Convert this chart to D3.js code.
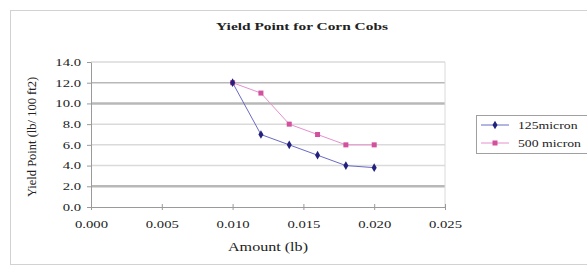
<!DOCTYPE html>
<html>
<head>
<meta charset="utf-8">
<script src="https://cdn.jsdelivr.net/npm/d3@7"></script>
<style>
  body { margin: 0; background: #fff; }
  text { font-family: "Liberation Serif", "Times New Roman", serif; fill: #222; }
</style>
</head>
<body>
<div id="chart"></div>
<script>
// data
const amounts = [0.010, 0.012, 0.014, 0.016, 0.018, 0.020];
const micron125 = [12.0, 7.0, 6.0, 5.0, 4.0, 3.8];
const micron500 = [12.0, 11.0, 8.0, 7.0, 6.0, 6.0];
const xTicks = [0.000, 0.005, 0.010, 0.015, 0.020, 0.025];
const yTicks = [0, 2, 4, 6, 8, 10, 12, 14];
const seriesNames = ["125micron", "500 micron"];

const W = 587, H = 267;
const margin = { top: 62, right: 142, bottom: 60, left: 91 };
const width = W - margin.left - margin.right;
const height = H - margin.top - margin.bottom;

// the original picture is stretched sideways, so is its text
const stretch = 1.4;

const svg = d3.select("#chart").append("svg")
    .attr("width", W)
    .attr("height", H);

// outer chart frame
svg.append("rect")
    .attr("x", 10.5).attr("y", 10.5)
    .attr("width", W).attr("height", H - 13)
    .attr("fill", "#fff")
    .attr("stroke", "#d2d2d2");

const g = svg.append("g")
    .attr("transform", "translate(" + margin.left + "," + margin.top + ")");

const x = d3.scaleLinear().domain([0, 0.025]).range([0, width]);
const y = d3.scaleLinear().domain([0, 14]).range([height, 0]);

// gridlines
g.selectAll(".grid")
    .data(yTicks.filter(d => d > 0))
    .enter().append("line")
    .attr("class", "grid")
    .attr("x1", 0).attr("x2", width)
    .attr("y1", d => y(d)).attr("y2", d => y(d))
    .attr("stroke", d => (d == 10 || d == 12 || d == 2) ? "#b8b8b8" : "#dadada")
    .attr("stroke-width", d => (d == 10 || d == 2) ? 2.5 : 1.5);

// right edge of plot area
g.append("line")
    .attr("x1", width).attr("x2", width)
    .attr("y1", 0).attr("y2", height)
    .attr("stroke", "#dadada");

// axes
const xAxis = g.append("g")
    .attr("transform", "translate(0," + height + ")")
    .call(d3.axisBottom(x).tickValues(xTicks).tickFormat(d3.format(".3f")).tickSize(4).tickSizeOuter(0));
const yAxis = g.append("g")
    .call(d3.axisLeft(y).tickValues(yTicks).tickFormat(d3.format(".1f")).tickSize(4).tickSizeOuter(0));

[xAxis, yAxis].forEach(a => {
    a.selectAll("path, line").attr("stroke", "#9a9a9a");
    a.selectAll("text")
        .style("font-size", "10.5px")
        .style("font-family", "'Liberation Serif', serif")
        .attr("fill", "#333")
        .attr("transform", "scale(" + stretch + ",1)");
});
xAxis.selectAll(".tick line").attr("y1", -3).attr("y2", 3);
xAxis.selectAll("text").attr("y", 14).attr("dy", "0.71em");
yAxis.selectAll("text").attr("x", -10 / stretch);

// lines and markers
const line = d3.line().x(d => x(d[0])).y(d => y(d[1]));
const s125 = amounts.map((a, i) => [a, micron125[i]]);
const s500 = amounts.map((a, i) => [a, micron500[i]]);

g.append("path").datum(s500)
    .attr("d", line).attr("fill", "none")
    .attr("stroke", "#e690cc").attr("stroke-width", 1);
g.append("path").datum(s125)
    .attr("d", line).attr("fill", "none")
    .attr("stroke", "#6a6ac4").attr("stroke-width", 1);

g.selectAll(".m500").data(s500).enter().append("rect")
    .attr("class", "m500")
    .attr("x", d => x(d[0]) - 2.5).attr("y", d => y(d[1]) - 2.5)
    .attr("width", 5).attr("height", 5)
    .attr("fill", "#d2509e");

g.selectAll(".m125").data(s125).enter().append("path")
    .attr("class", "m125")
    .attr("transform", d => "translate(" + x(d[0]) + "," + y(d[1]) + ")")
    .attr("d", d3.symbol().type(d3.symbolDiamond).size(22))
    .attr("fill", "#22227e");

// title and axis labels
svg.append("text")
    .attr("transform", "translate(302,30) scale(" + stretch + ",1)")
    .attr("text-anchor", "middle")
    .style("font-size", "11px")
    .style("font-weight", "bold")
    .attr("fill", "#333")
    .text("Yield Point for Corn Cobs");

svg.append("text")
    .attr("transform", "translate(268,251) scale(" + stretch + ",1)")
    .attr("text-anchor", "middle")
    .style("font-size", "11.5px")
    .attr("fill", "#333")
    .text("Amount (lb)");

svg.append("text")
    .attr("transform", "translate(36," + 137 + ") rotate(-90)")
    .attr("text-anchor", "middle")
    .style("font-size", "12.5px")
    .attr("fill", "#333")
    .text("Yield Point (lb/ 100 ft2)");

// legend
const legend = svg.append("g").attr("transform", "translate(476,115)");
legend.append("rect")
    .attr("x", 0.5).attr("y", 0.5)
    .attr("width", 130).attr("height", 38)
    .attr("fill", "#fff").attr("stroke", "#a0a0a0");

const legendRows = legend.selectAll(".row").data(seriesNames).enter().append("g")
    .attr("transform", (d, i) => "translate(0," + (10 + i * 18) + ")");
legendRows.append("line")
    .attr("x1", 5).attr("x2", 33)
    .attr("stroke", (d, i) => i == 0 ? "#6a6ac4" : "#e690cc");
legendRows.each(function(d, i) {
    const r = d3.select(this);
    if (i == 0) {
        r.append("path").attr("transform", "translate(19,0)")
            .attr("d", d3.symbol().type(d3.symbolDiamond).size(22))
            .attr("fill", "#22227e");
    } else {
        r.append("rect").attr("x", 16.5).attr("y", -2.5)
            .attr("width", 5).attr("height", 5)
            .attr("fill", "#d2509e");
    }
});
legendRows.append("text")
    .attr("transform", "translate(42,4) scale(1.25,1)")
    .style("font-size", "11px")
    .attr("fill", "#333")
    .text(d => d);
</script>
</body>
</html>
